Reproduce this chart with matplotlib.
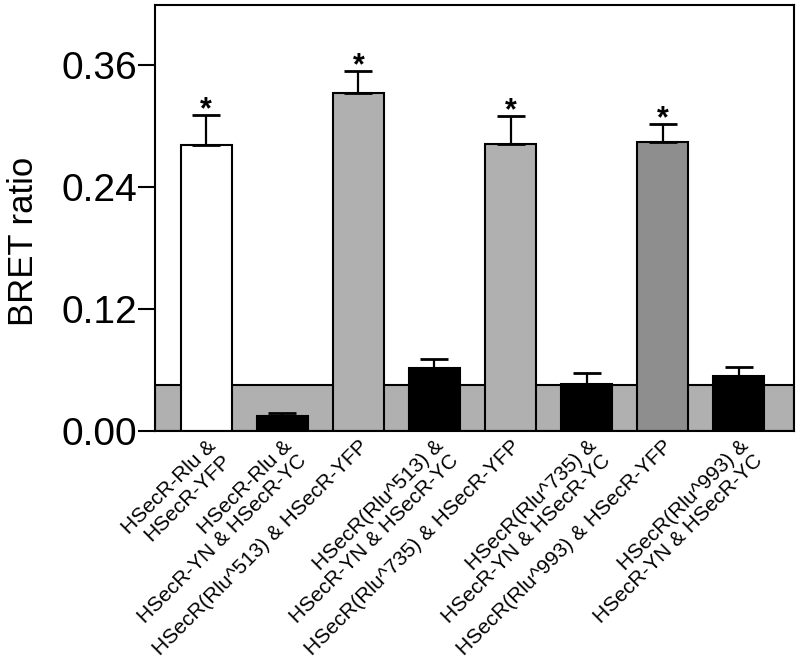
import matplotlib
matplotlib.use("Agg")
import matplotlib.pyplot as plt
import numpy as np

plt.rcParams.update({
    "font.family": ["Liberation Sans", "DejaVu Sans"],
    "figure.facecolor": "white",
    "axes.facecolor": "white",
})

# ── Data ──────────────────────────────────────────────
labels = [
    "HSecR-Rlu &\nHSecR-YFP",
    "HSecR-Rlu &\nHSecR-YN & HSecR-YC",
    "HSecR(Rlu^513) & HSecR-YFP",
    "HSecR(Rlu^513) &\nHSecR-YN & HSecR-YC",
    "HSecR(Rlu^735) & HSecR-YFP",
    "HSecR(Rlu^735) &\nHSecR-YN & HSecR-YC",
    "HSecR(Rlu^993) & HSecR-YFP",
    "HSecR(Rlu^993) &\nHSecR-YN & HSecR-YC",
]
means = [0.281, 0.0145, 0.332, 0.062, 0.282, 0.046, 0.284, 0.054]
errors = [0.030, 0.0035, 0.022, 0.009, 0.028, 0.011, 0.018, 0.009]
significant = [True, False, True, False, True, False, True, False]
colors = ["white", "black", "#b0b0b0", "black", "#b0b0b0", "black", "#8e8e8e", "black"]
background = 0.0455   # grey band: background BRET level
yticks = [0.00, 0.12, 0.24, 0.36]

# ── Figure ────────────────────────────────────────────
fig = plt.figure(figsize=(8.0, 6.63), dpi=100)
ax = fig.add_axes([0.194, 0.35, 0.799, 0.6425])

x = np.arange(len(means))
ax.axhspan(0, background, facecolor="#b0b0b0", edgecolor="black",
           linewidth=1.5, zorder=1)
ax.bar(x, means, width=0.67, color=colors, edgecolor="black",
       linewidth=1.5, zorder=2)
ax.errorbar(x, means, yerr=[np.zeros(len(errors)), errors], fmt="none",
            ecolor="black", elinewidth=1.6, capsize=10, capthick=2, zorder=3)

for xi, m, e, s in zip(x, means, errors, significant):
    if s:
        ax.text(xi, m + e - 0.003, "*", ha="center", va="baseline",
                fontsize=22, fontweight="bold")

ax.set_xlim(-0.67, 7.73)
ax.set_ylim(0, 0.419)
ax.set_yticks(yticks)
ax.set_yticklabels([f"{t:.2f}" for t in yticks], fontsize=28)
ax.set_ylabel("BRET ratio", fontsize=25)
ax.yaxis.set_label_coords(-0.181, 0.446)

ax.set_xticks(x)
ax.set_xticklabels(labels, rotation=45, ha="right", rotation_mode="anchor",
                   fontsize=15, linespacing=1.1)
ax.tick_params(axis="x", length=0, pad=4)
ax.tick_params(axis="y", length=12, width=1.5, direction="out", pad=1)

for sp in ax.spines.values():
    sp.set_linewidth(1.5)

fig.savefig("out.png", dpi=100)
